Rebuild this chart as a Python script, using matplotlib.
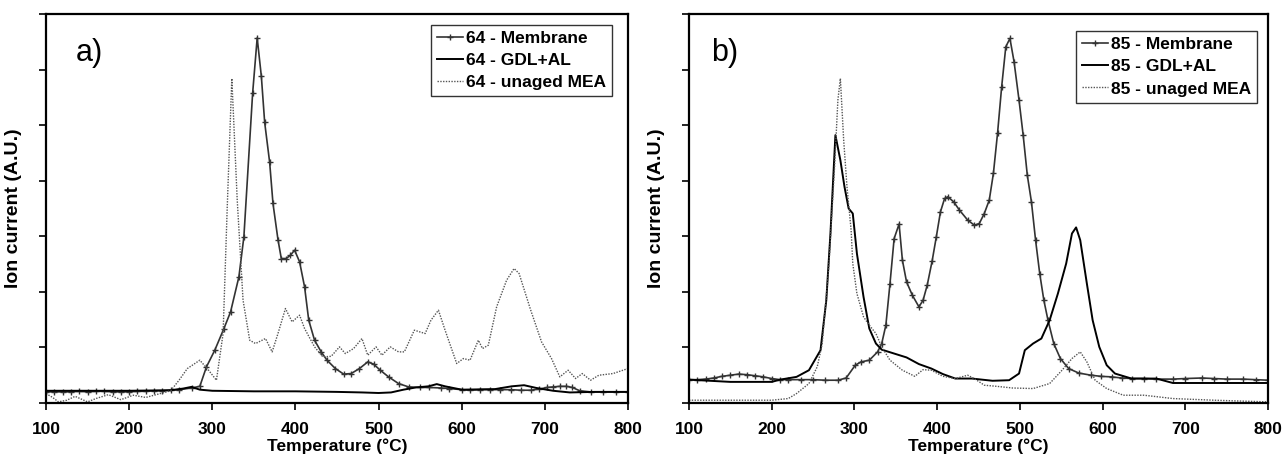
import numpy as np
import matplotlib
matplotlib.use("Agg")
import matplotlib.pyplot as plt

plt.rcParams['font.family'] = ['Liberation Sans', 'DejaVu Sans']

# ---- panel a) : sample 64 ----
a_mem_t = [100, 110, 120, 130, 140, 150, 160, 170, 180, 190, 200, 210, 220, 230, 240, 250,
           260, 275, 285, 293, 303, 314, 322, 332, 338, 348.5, 354, 359, 363, 369, 373,
           379, 383, 389, 394, 399, 405, 411, 416, 423, 431, 438, 448, 458, 467, 477, 487,
           494, 502, 512, 524, 536, 550, 561, 575, 585, 600, 610, 622, 634, 646, 659, 671,
           683, 693, 703, 710, 718, 726, 733, 742, 755, 770, 785, 800]
a_mem_y = [0.2, 0.2, 0.2, 0.2, 0.21, 0.2, 0.21, 0.21, 0.2, 0.2, 0.2, 0.21, 0.21, 0.22, 0.22, 0.23,
           0.24, 0.27, 0.3, 0.65, 0.95, 1.34, 1.64, 2.27, 2.99, 5.57, 6.57, 5.88, 5.05, 4.33, 3.59,
           2.94, 2.6, 2.6, 2.66, 2.75, 2.54, 2.09, 1.49, 1.13, 0.92, 0.77, 0.62, 0.52, 0.53, 0.62, 0.74,
           0.70, 0.59, 0.47, 0.35, 0.29, 0.28, 0.28, 0.27, 0.26, 0.24, 0.23, 0.24, 0.24, 0.24, 0.24, 0.23,
           0.23, 0.25, 0.28, 0.29, 0.30, 0.30, 0.28, 0.22, 0.2, 0.2, 0.2, 0.2]

a_gdl_t = [100, 150, 200, 250, 265, 275, 285, 300, 350, 400, 450, 480, 500, 515, 530, 545,
           560, 570, 580, 600, 640, 660, 675, 690, 710, 730, 760, 800]
a_gdl_y = [0.22, 0.22, 0.22, 0.23, 0.26, 0.29, 0.24, 0.22, 0.21, 0.21, 0.2, 0.19, 0.18, 0.19, 0.24, 0.28,
           0.3, 0.34, 0.3, 0.24, 0.25, 0.3, 0.32, 0.27, 0.22, 0.19, 0.2, 0.2]

a_mea_t = [100, 108, 115, 125, 135, 150, 160, 175, 190, 205, 220, 235, 250, 260, 270, 285, 295,
           305, 313, 318, 323.5, 330, 337, 345, 352, 364, 372, 379, 388, 396, 405, 411, 423, 433,
           443, 453, 460, 470, 480, 487, 497, 504, 514, 524, 531, 543, 556, 563, 572, 580, 594,
           602, 610, 620, 625, 632, 642, 654, 663, 669, 683, 696, 708, 718, 728, 737, 745, 755,
           765, 782, 800]
a_mea_y = [0.17, 0.1, 0.02, 0.05, 0.12, 0.02, 0.08, 0.15, 0.06, 0.14, 0.1, 0.16, 0.22, 0.41, 0.62, 0.77, 0.6,
           0.41, 1.25, 3.53, 5.84, 3.65, 1.85, 1.13, 1.07, 1.16, 0.92, 1.25, 1.70, 1.46, 1.58, 1.34, 1.01, 0.83,
           0.84, 1.01, 0.89, 0.98, 1.16, 0.86, 1.01, 0.86, 1.01, 0.92, 0.92, 1.31, 1.25, 1.49, 1.67, 1.31, 0.71,
           0.80, 0.77, 1.13, 0.98, 1.04, 1.73, 2.21, 2.42, 2.33, 1.67, 1.10, 0.80, 0.47, 0.59, 0.44, 0.53, 0.41,
           0.50, 0.53, 0.62]

# ---- panel b) : sample 85 ----
b_mem_t = [100, 110, 120, 130, 140, 150, 160, 170, 180, 190, 200, 210, 220, 235, 250, 265, 280, 290,
           301, 308, 318, 328, 333, 338, 343, 348, 354, 358, 363, 370, 378, 383, 388, 394, 399,
           404, 409, 413, 420, 427, 437, 445, 451, 457, 463, 468, 473, 478, 483, 488, 493, 499,
           504, 509, 514, 519, 524, 529, 534, 541, 549, 559, 571, 586, 598, 611, 623, 635, 650,
           665, 685, 700, 720, 735, 750, 770, 785, 800]
b_mem_y = [0.42, 0.42, 0.43, 0.45, 0.48, 0.5, 0.52, 0.51, 0.49, 0.47, 0.44, 0.42, 0.42, 0.42, 0.42, 0.41, 0.41, 0.45,
           0.68, 0.74, 0.77, 0.92, 1.07, 1.40, 2.15, 2.96, 3.22, 2.57, 2.18, 1.94, 1.73, 1.85, 2.12, 2.56, 2.99,
           3.44, 3.68, 3.71, 3.62, 3.47, 3.29, 3.20, 3.23, 3.41, 3.65, 4.13, 4.85, 5.69, 6.41, 6.56, 6.14, 5.45,
           4.82, 4.10, 3.62, 2.93, 2.33, 1.85, 1.49, 1.07, 0.80, 0.62, 0.54, 0.50, 0.48, 0.47, 0.45, 0.44, 0.44,
           0.43, 0.43, 0.44, 0.45, 0.44, 0.43, 0.43, 0.42, 0.41]

b_gdl_t = [100, 150, 200, 210, 230, 245, 259, 266, 271, 277, 283, 288, 293, 298, 303, 311, 318,
           326, 333, 348, 363, 378, 393, 407, 422, 442, 467, 487, 499, 506, 516, 526, 536, 546,
           556, 563, 568, 573, 581, 588, 596, 605, 615, 635, 665, 685, 735, 800]
b_gdl_y = [0.42, 0.38, 0.38, 0.42, 0.47, 0.59, 0.95, 1.85, 3.05, 4.82, 4.37, 3.89, 3.50, 3.41, 2.69, 1.91, 1.34,
           1.07, 0.96, 0.89, 0.82, 0.70, 0.62, 0.52, 0.44, 0.44, 0.40, 0.41, 0.53, 0.95, 1.07, 1.16, 1.49, 1.97,
           2.51, 3.05, 3.16, 2.93, 2.15, 1.49, 1.01, 0.68, 0.53, 0.44, 0.44, 0.36, 0.36, 0.36]

b_mea_t = [100, 150, 200, 220, 230, 245, 255, 261, 269, 276, 280, 283, 287, 291, 296, 298, 303,
           311, 318, 326, 333, 343, 358, 373, 383, 393, 407, 422, 437, 447, 457, 472, 491, 516,
           536, 551, 563, 573, 581, 591, 605, 625, 650, 685, 735, 800]
b_mea_y = [0.05, 0.05, 0.05, 0.08, 0.17, 0.35, 0.65, 1.06, 2.45, 4.25, 5.45, 5.84, 4.73, 3.89, 3.11, 2.51, 1.97,
           1.55, 1.40, 1.25, 1.01, 0.77, 0.59, 0.48, 0.60, 0.59, 0.48, 0.44, 0.50, 0.42, 0.32, 0.30, 0.27, 0.26,
           0.35, 0.59, 0.80, 0.92, 0.74, 0.41, 0.26, 0.14, 0.14, 0.08, 0.05, 0.02]

panels = [
    ("a)", "64", (a_mem_t, a_mem_y), (a_gdl_t, a_gdl_y), (a_mea_t, a_mea_y), 136, (0.972, 0.972)),
    ("b)", "85", (b_mem_t, b_mem_y), (b_gdl_t, b_gdl_y), (b_mea_t, b_mea_y), 127, (0.981, 0.956)),
]

fig = plt.figure(figsize=(12.83, 4.54), dpi=100)
boxes = [[46 / 1283, 51 / 454, 582 / 1283, 389 / 454],
         [689 / 1283, 51 / 454, 579 / 1283, 389 / 454]]

for box, (tag, sample, mem, gdl, mea, tag_x, leg_pos) in zip(boxes, panels):
    ax = fig.add_axes(box)
    ax.plot(*mem, color="#333333", lw=1.2, marker="+", ms=4, mew=1.0,
            label=f"{sample} - Membrane")
    ax.plot(*gdl, color="black", lw=1.4, label=f"{sample} - GDL+AL")
    ax.plot(*mea, color="#555555", lw=1.0, ls=(0, (1, 1)),
            label=f"{sample} - unaged MEA")

    ax.set_xlim(100, 800)
    ax.set_ylim(0, 7)
    ax.set_xticks(np.arange(100, 801, 100))
    ax.set_yticks(np.arange(0, 8))
    ax.set_yticklabels([])
    ax.tick_params(axis="both", direction="out", length=5, width=1.2)
    ax.tick_params(axis="x", pad=9, labelsize=12.5)
    for lbl in ax.get_xticklabels():
        lbl.set_fontweight("bold")
    for sp in ax.spines.values():
        sp.set_linewidth(1.6)

    ax.set_xlabel("Temperature (°C)", fontsize=12.5, fontweight="bold", labelpad=1)
    ax.set_ylabel("Ion current (A.U.)", fontsize=14, fontweight="bold", labelpad=9)
    ax.text(tag_x, 6.3, tag, fontsize=22, va="center", ha="left")

    leg = ax.legend(loc="upper right", bbox_to_anchor=leg_pos, fancybox=False,
                    edgecolor="#333333", framealpha=1, borderaxespad=0,
                    prop={"size": 12.5, "weight": "bold"}, handlelength=1.5,
                    handletextpad=0.15, labelspacing=0.4, borderpad=0.35)
    leg.get_frame().set_linewidth(1.0)

fig.savefig("out.png", dpi=100)
